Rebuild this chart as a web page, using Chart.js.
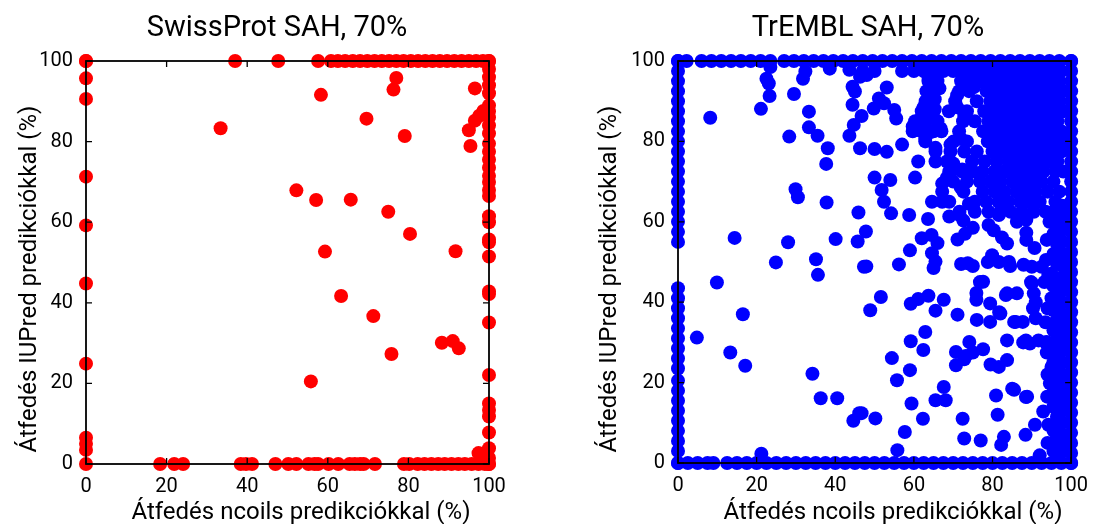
<!DOCTYPE html>
<html><head><meta charset="utf-8">
<script src="https://cdn.jsdelivr.net/npm/chart.js@4.4.1/dist/chart.umd.min.js"></script>
<style>
html,body{margin:0;padding:0;background:#fff;}
#wrap{position:relative;width:1099px;height:524px;overflow:hidden;background:#fff;}
.c{position:absolute;top:0;height:524px;}
</style></head><body>
<div id="wrap">
<div class="c" style="left:0;width:549px"><canvas id="sp"></canvas></div>
<div class="c" style="left:549px;width:550px"><canvas id="tr"></canvas></div>
</div>
<script>
// ---------- labels ----------
const titleSP = 'SwissProt SAH, 70%';
const titleTR = 'TrEMBL SAH, 70%';
const xTitle = 'Átfedés ncoils predikciókkal (%)';
const yTitle = 'Átfedés IUPred predikciókkal (%)';
const tickValues = [0, 20, 40, 60, 80, 100];

// ---------- SwissProt (red) ----------
const spLeftEdge = [100, 95.7, 90.6, 71.3, 59.2, 44.8, 24.9, 6.5, 5, 3.5, 0];            // x = 0
const spTopEdge = [0, 37, 47.7, 57.6, 60.8, 62.5, 64.3, 66.2, 68, 69.8, 71.6, 73.4, 75.2, 77, 78.8,
  80.6, 82.4, 84.2, 86, 87.8, 89.6, 91.4, 93.2, 95, 96.8, 98.5, 100];                      // y = 100
const spRightEdge = [100, 98, 96, 94, 92, 89, 87.5, 86, 84, 82, 79.5, 77.5, 75.5, 73.5, 71.5, 70,
  68, 66.5, 61.5, 60, 55.7, 55, 51.5, 42.8, 42.2, 35.1, 22.1, 15, 13.4, 11.8, 7.8, 3.9, 1.5, 0]; // x = 100
const spBottomEdge = [18.4, 21.9, 24.1, 38.4, 39.7, 41.2, 47, 50.2, 52.2, 55.2, 56.7, 57.6, 60.2,
  62.6, 65.4, 66.7, 68, 68.9, 71.7, 78.9, 80.2, 82.3, 84, 85.7, 87.4, 89, 90.7, 92.4, 94, 95.7,
  97.4, 99, 100];                                                                          // y = 0
const spInner = [[33.4,83.3],[58.3,91.6],[77,95.8],[76.3,92.9],[69.6,85.7],[79.1,81.4],[96.5,93.2],
  [95,82.8],[95.4,78.9],[96.5,85.2],[97.6,86.4],[98.6,87.6],[52.2,67.9],[57.1,65.5],[65.7,65.6],
  [75,62.6],[80.4,57.1],[59.3,52.7],[91.7,52.8],[63.3,41.7],[71.3,36.7],[88.3,30.1],[91,30.5],
  [92.5,28.7],[75.8,27.3],[55.8,20.5],[97.4,2.7],[98.4,2.5]];

// ---------- TrEMBL (blue) ----------
const trLeftEdge = [100,97.5,95,92.5,90,87.5,85,82.5,80,77.5,75,72.5,70,67.5,65,62.5,60,57.5,55,
  43.5,41,38.5,36,33.5,31,28.5,26,23.5,20.5,18,15.5,13,10.5,8,5.5,3,0];                     // x = 0
const trTopEdge = [0,2.2,6,8.5,11,13.5,16,18.5,21,23.5,27,29.5,32,34.5,37,39.5,42,44.5,47,49.5,52,
  54.5,57,59.5,62,64.5,67,69.5,72,74.5,77,79.5,82,84.5,87,89.5,92,94.5,97,100];              // y = 100
const trRightEdge = [100,97.5,95,92.5,90,87.5,85,82.5,80,77.5,75,72.5,70,67.5,65,62.5,60,57.5,55,
  52.5,50,47.5,45,42.5,40,37.5,35,32.5,30,27.5,25,22.5,20,17.5,15,12.5,10,7.5,5,2.5,0];      // x = 100
const trBottomEdge = [0,2.5,5,7.5,9,12.5,15,17.5,20,22.5,25,27.5,30,32.5,35,37.5,40,42.5,45,47.5,
  50,52.5,55,57.5,60,62.5,65,67.5,70,72.5,75,77.5,80,82.5,85,87.5,90,92.5,95,97.5,100];       // y = 0
const trNearRight = [[97.8,64],[97.8,61],[97.8,58],[97.8,55],[97.8,52],[97.8,49],[97.8,46],[97.8,43],
  [97.8,40],[97.8,37],[97.8,34],[97.8,31],[97.8,28],[97.8,25],[97.8,22],[97.8,19],[97.8,16],
  [97.8,13],[97.8,10],[97.8,7],[97.8,4],[95.5,62.5],[95.5,57],[95.5,52],[95.5,44],[95.5,38],
  [95.5,33],[95.5,25],[95.5,19],[95.5,14],[95.5,8.5],[95.5,3],
  [96.4,59.5],[96.4,54.5],[96.4,49.5],[96.4,46],[96.4,41],[96.4,35.5],[96.4,31],[96.4,27],
  [96.4,21.5],[96.4,17],[96.4,11.5],[96.4,6.5],[96.4,1.5],[93.8,55.5],[93.6,50.5],[93.2,45],
  [93.5,35],[93.8,27.5],[94,22],[93.9,16.5],[94.2,9.5],[94,5]];
const trDense = [
  [47,97.5],[50,97.5],[57,97.5],[60,97.5],[62.5,97.5],[65,97.5],[67.5,97.5],[70,97.5],[72.5,97.5],[75,97.5],
  [77.5,97.5],[80,97.5],[82.5,97.5],[85,97.5],[87.5,97.5],[90,97.5],[92.5,97.5],[95,97.5],[97.5,97.5],
  [63.7,95],[66,95],[72,95],[74.5,95],[77,95],[79.5,95],[82,95],[84.5,95],[87,95],[89.5,95],[92,95],[94.5,95],[97,95],
  [64.5,92.5],[71.5,92.5],[74,92.5],[78.5,92.5],[81,92.5],[83.5,92.5],[86,92.5],[88.5,92.5],[91,92.5],[93.5,92.5],[96,92.5],[98,92.5],
  [63,90],[70.5,90],[76,90],[79.5,90],[82,90],[84.5,90],[87,90],[89.5,90],[92,90],[94.5,90],[97,90],
  [62,87.5],[65,87.5],[68.9,87.5],[73.5,87.5],[77.9,87.5],[80.5,87.5],[83,87.5],[85.5,87.5],[88,87.5],[90.5,87.5],[93,87.5],[95.5,87.5],[98,87.5],
  [60.3,85],[63.1,85],[66,85],[72.5,85],[75.5,85],[79,85],[81.5,85],[84,85],[86.5,85],[89,85],[91.5,85],[94,85],[96.5,85],
  [59.7,82.5],[62,82.5],[65,82.5],[67,82.5],[71.5,82.5],[77.6,82.5],[80,82.5],[82.5,82.5],[85,82.5],[87.5,82.5],[90,82.5],[92.5,82.5],[95,82.5],[97.5,82.5],
  [62.9,80],[70.1,80],[73.5,80],[78.8,80],[81,80],[83.5,80],[86,80],[88.5,80],[91,80],[93.5,80],[96,80],[98,80],
  [65.5,77.5],[69.3,77.5],[72.8,77.5],[76,77.5],[80,77.5],[82.5,77.5],[85,77.5],[87.5,77.5],[90,77.5],[92.5,77.5],[95,77.5],[97.5,77.5],
  [61.1,75],[65.5,75],[68.4,75],[74.8,75],[78,75],[81,75],[84,75],[86.5,75],[89,75],[91.5,75],[94,75],[96.5,75],
  [69.5,72.5],[72.3,72.5],[75,72.5],[77.5,72.5],[80.5,72.5],[83,72.5],[85.5,72.5],[88,72.5],[90.5,72.5],[93,72.5],[96,72.5],[98,72.5],
  [70,70],[73.5,70],[76.8,70],[79.5,70],[82,70],[85,70],[87.5,70],[90,70],[92.5,70],[95.5,70],
  [67.2,67.5],[72.6,67.5],[77.5,67.5],[80.5,67.5],[83,67.5],[86,67.5],[88.5,67.5],[91,67.5],[94,67.5],[97,67.5],
  [64.6,65],[67.2,65],[69,65],[75.5,65],[78.4,65],[81.5,65],[84,65],[87,65],[89.5,65],[92,65],[96,65],
  [71.6,62.5],[75.5,62.5],[79,62.5],[82,62.5],[84.6,62.5],[87.5,62.5],[90.5,62.5],[93.5,62.5]];
const trSparse = [[8.2,85.9],[21.1,88.1],[23.3,91.3],[23.1,94.4],[22.5,95.6],[23.5,98.5],[29.5,91.8],
  [31.8,95.6],[32.4,97.4],[28.3,81.2],[33.3,87.4],[33.3,83.5],[35.5,81.4],[38.1,78.3],[37.7,74.4],
  [38.6,98.1],[43.6,97.8],[46.3,96.1],[44.4,93.6],[45,92.4],[44.4,89.1],[46.7,86.3],[44.7,84.1],
  [43.6,81.4],[46.3,78.3],[29.9,68.1],[30.5,66.1],[37.8,64.8],[45.9,62.3],[14.4,56],[28,54.9],
  [40.1,55.7],[45.7,55.1],[47.8,57.6],[24.9,49.9],[35.1,50.7],[35.6,46.8],[9.9,44.9],[4.8,31.2],
  [16.5,37],[13.3,27.5],[17.1,24.2],[34.2,22.2],[36.3,16.1],[40.5,16.1],[44.6,10.5],[46.7,12.4],
  [47.3,48.8],[21.2,2.3],
  [48,96.5],[49.8,88.2],[51.1,90.7],[52.4,89.5],[53.1,93.4],[55,87.8],[55.5,85.7],[50,78.1],
  [53.1,77.4],[50,71],[54,70.4],[51.8,67.9],[52.4,65],[54.2,62.1],[57,79.2],[58.8,61.7],[60.3,71],
  [59.7,83.7],[62,86],[62,83],[63.7,96.1],[63.2,92.5],[64,91],[65.3,90.5],[66.5,93.2],[62.5,88.5],
  [64,86.5],[65.3,88],[62.9,80.7],[65.5,78.4],[64.2,82.3],[66.8,83.2],[67.2,69.5],[63.6,60.7],
  [62,55.9],[64.5,56.7],[66,54.7],[64.6,52.2],[65.5,50.1],[65,48.5],[69,61.3],[71.6,61.7],
  [69.3,79.2],[70,74.5],[69,72.5],[68.4,71],[71.1,55.6],[72,49.5],[75,49],[73.7,49.7],[59,52.9],
  [56.2,49.4],[72.3,73],[71.9,68.6],[72,80.6],[71,88.5],[72.8,86.6],[73.2,93.5],[75.3,93.5],[71,91.5],
  [74,64.5],[72.6,60.3],[73,57],[75,58.5],[79,59.2],[79.9,51.7],[81.6,50],[84.2,50],[84.5,49],
  [76.8,45],[75.9,42.3],[75.9,40.6],[79.4,39.7],[79.4,35.1],[82,37.2],[83.7,42.2],[86.2,42.2],
  [85.5,35.1],[87.7,35.1],[89.8,45],[90.5,42.2],[91,40],[90.3,38.5],[88.5,30.5],[89.5,29.7],
  [91.7,30.5],[93.8,30.1],[95.5,28.9],[83.7,30.5],[83.7,25.6],[81.6,23.9],[77.6,28.3],[75,27.5],
  [73.2,26.6],[74.1,30.1],[72.8,25.8],[70.7,27.6],[70.7,24.3],[85,18.5],[88.5,16.4],[80.9,16.8],
  [81.3,12],[82.9,6.5],[82.2,4.5],[88.4,7],[90.8,9.5],[92.9,12.8],[94.6,19.8],[95.9,18.5],
  [96.3,16],[95,23.9],[96.8,24.7],[95.5,8.1],[97.7,2.7],[96.3,5.5],[92,1.9],[72.4,11],[72.8,6.1],
  [77,5.6],[67.6,18.9],[65.5,15.6],[68.1,15.6],[62.3,11],[59.4,14.8],[57.7,7.7],[59,23.1],
  [55.7,20.6],[54.4,26.1],[59.2,30.3],[62.4,28.1],[62.9,32.6],[55.8,3.2],[51.6,41.3],[48.9,38],
  [47.9,48.9],[59.2,39.6],[61.1,40.8],[63.7,41.6],[67.6,40.6],[65.5,37.9],[71.1,36.9],[46.1,12.4],
  [50.2,11.1],[94,38.5],[95,41],[94.9,47.1],[96.8,52],[96.8,57],[94.5,60],[88.6,57.3],[88.6,55.5],
  [90.7,53.5],[83.7,54.6],[80.3,57.9],[82.4,56.1],[81.6,61.7],[86.2,60],[88.6,60.5],[77.6,45.1],
  [78.8,50],[87.9,49.3],[90,48.8],[92.5,48.8],[90,44.7],[91,36],[94.2,46.8],[76,35.6],[81.7,37.5],
  [83.4,41.8],[85.9,35.1],[87.8,30],[93.5,30],[79.5,24.5],[85.5,18.2],[88.8,16.5]];

// ---------- build point lists ----------
function edgeX(xFixed, ys) { return ys.map(v => ({x: xFixed, y: v})); }
function edgeY(yFixed, xs) { return xs.map(v => ({x: v, y: yFixed})); }
function pairs(list) { return list.map(p => ({x: p[0], y: p[1]})); }

const spPoints = [].concat(edgeX(0, spLeftEdge), edgeY(100, spTopEdge), edgeX(100, spRightEdge),
  edgeY(0, spBottomEdge), pairs(spInner));
const trPoints = [].concat(edgeX(0, trLeftEdge), edgeY(100, trTopEdge), edgeX(100, trRightEdge),
  edgeY(0, trBottomEdge), pairs(trNearRight), pairs(trDense), pairs(trSparse));

// ---------- plugins ----------
const framePlugin = {
  id: 'frame',
  afterDatasetsDraw(chart) {
    const ctx = chart.ctx, a = chart.chartArea, xs = chart.scales.x, ys = chart.scales.y;
    ctx.save();
    ctx.strokeStyle = '#000';
    ctx.lineWidth = 1.8;
    ctx.strokeRect(a.left, a.top, a.right - a.left, a.bottom - a.top);
    const L = 6;
    ctx.lineWidth = 1.3;
    ctx.beginPath();
    xs.ticks.forEach(t => {
      const p = xs.getPixelForValue(t.value);
      ctx.moveTo(p, a.bottom); ctx.lineTo(p, a.bottom - L);
      ctx.moveTo(p, a.top); ctx.lineTo(p, a.top + L);
    });
    ys.ticks.forEach(t => {
      const p = ys.getPixelForValue(t.value);
      ctx.moveTo(a.left, p); ctx.lineTo(a.left + L, p);
      ctx.moveTo(a.right, p); ctx.lineTo(a.right - L, p);
    });
    ctx.stroke();
    ctx.restore();
  }
};
const textPlugin = {
  id: 'texts',
  afterDraw(chart, args, o) {
    const ctx = chart.ctx;
    ctx.save();
    ctx.fillStyle = '#000';
    ctx.textAlign = 'center';
    ctx.textBaseline = 'alphabetic';
    ctx.font = '29px Roboto';
    ctx.fillText(o.title, o.titleX, o.titleY);
    ctx.font = '24px Roboto';
    ctx.fillText(o.xTitle, o.xTitleX, o.xTitleY);
    ctx.translate(o.yTitleX, o.yTitleY);
    ctx.rotate(-Math.PI / 2);
    ctx.fillText(o.yTitle, 0, 0);
    ctx.restore();
  }
};

function makeChart(id, points, color, g) {
  return new Chart(document.getElementById(id), {
    type: 'scatter',
    data: { datasets: [{ data: points, backgroundColor: color, borderWidth: 0,
      pointRadius: 7, pointHoverRadius: 7, clip: false }] },
    options: {
      responsive: true, maintainAspectRatio: false, animation: false,
      events: [],
      layout: { padding: { left: 0, right: g.padRight, top: 61, bottom: 0 } },
      plugins: {
        legend: { display: false }, tooltip: { enabled: false }, title: { display: false },
        texts: { title: g.title, titleX: g.titleX, titleY: 36, xTitle: xTitle, xTitleX: g.xTitleX,
          xTitleY: 519, yTitle: yTitle, yTitleX: g.yTitleX, yTitleY: 279 }
      },
      scales: {
        x: { type: 'linear', min: 0, max: 100,
          afterBuildTicks: s => { s.ticks = tickValues.map(v => ({value: v})); },
          afterFit: s => { s.height = g.xHeight; },
          grid: { display: false, drawTicks: false }, border: { display: false },
          ticks: { color: '#000', font: { family: 'Roboto', size: 20 }, padding: 11, maxRotation: 0, autoSkip: false } },
        y: { type: 'linear', min: 0, max: 100,
          afterBuildTicks: s => { s.ticks = tickValues.map(v => ({value: v})); },
          afterFit: s => { s.width = g.yWidth; },
          grid: { display: false, drawTicks: false }, border: { display: false },
          ticks: { color: '#000', font: { family: 'Roboto', size: 20 }, padding: 13, autoSkip: false } }
      }
    },
    plugins: [framePlugin, textPlugin]
  });
}

makeChart('sp', spPoints, '#ff0000',
  { padRight: 60, yWidth: 86, xHeight: 60, title: titleSP, titleX: 277, xTitleX: 301, yTitleX: 36 });
makeChart('tr', trPoints, '#0000ff',
  { padRight: 19, yWidth: 129, xHeight: 61, title: titleTR, titleX: 319, xTitleX: 344, yTitleX: 67 });
</script>
</body></html>
